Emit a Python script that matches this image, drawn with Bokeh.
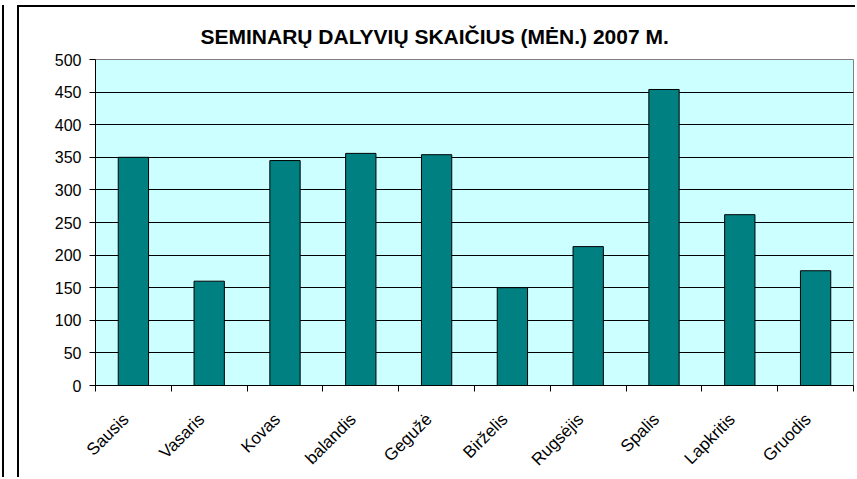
import math
from bokeh.plotting import figure
from bokeh.models import FixedTicker, Range1d
from bokeh.embed import file_html
from bokeh.resources import INLINE

months = ["Sausis", "Vasaris", "Kovas", "balandis", "Gegužė",
          "Birželis", "Rugsėjis", "Spalis", "Lapkritis", "Gruodis"]
participants = [350, 160, 345, 356, 354, 150, 213, 454, 262, 176]
y_ticks = [0, 50, 100, 150, 200, 250, 300, 350, 400, 450, 500]
title_text = "SEMINARŲ  DALYVIŲ SKAIČIUS (MĖN.) 2007 M."

FONT = "Liberation Sans"

n = len(months)
centers = [i + 0.5 for i in range(n)]
bounds = [float(i) for i in range(n + 1)]
label_shift = -0.1  # rotated labels sit slightly left of the category centre
label_pos = [c + label_shift for c in centers]

p = figure(width=838, height=472, output_backend="svg", toolbar_location=None,
           x_range=Range1d(0, n), y_range=Range1d(0, 500),
           min_border_left=76, min_border_right=4, min_border_top=52,
           min_border_bottom=94, title=title_text)

# outer chart frame (top/left visible) and the page edge line at far left
p.styles = {"margin-left": "17px", "margin-top": "5px",
            "border-left": "2px solid black", "border-top": "2px solid black",
            "box-shadow": "-13px 0 0 0 white, -15px 0 0 0 black"}

p.background_fill_color = "#CCFFFF"
p.border_fill_color = "white"
p.outline_line_color = "#808080"
p.outline_line_width = 1

p.title.text_font = FONT
p.title.text_font_size = "21px"
p.title.text_font_style = "bold"
p.title.text_color = "black"
p.title.align = "left"
p.title.vertical_align = "top"
p.title.offset = 105
p.title.standoff = 19

p.vbar(x=centers, top=participants, width=0.4, bottom=0,
       fill_color="#008080", line_color="black", line_width=1)

# y axis
p.yaxis.ticker = FixedTicker(ticks=y_ticks)
p.yaxis.axis_line_color = "black"
p.yaxis.major_tick_in = 0
p.yaxis.major_tick_out = 6
p.yaxis.minor_tick_line_color = None
p.yaxis.major_tick_line_color = "black"
p.yaxis.major_label_text_font = FONT
p.yaxis.major_label_text_font_size = "16px"
p.yaxis.major_label_text_color = "black"
p.yaxis.major_label_standoff = 8

# x axis
p.xaxis.ticker = FixedTicker(ticks=label_pos, minor_ticks=bounds)
p.xaxis.major_label_overrides = {c: m for c, m in zip(label_pos, months)}
p.xaxis.major_label_orientation = math.pi / 4
p.xaxis.major_tick_line_color = None
p.xaxis.minor_tick_line_color = "black"
p.xaxis.minor_tick_in = 0
p.xaxis.minor_tick_out = 6
p.xaxis.axis_line_color = "black"
p.xaxis.major_label_text_font = FONT
p.xaxis.major_label_text_font_size = "17px"
p.xaxis.major_label_text_color = "black"
p.xaxis.major_label_standoff = 25

p.xgrid.grid_line_color = None
p.ygrid.ticker = FixedTicker(ticks=y_ticks)
p.ygrid.grid_line_color = "black"
p.ygrid.grid_line_width = 1
p.ygrid.grid_line_alpha = 1

open("out.html", "w").write(file_html(p, INLINE))
